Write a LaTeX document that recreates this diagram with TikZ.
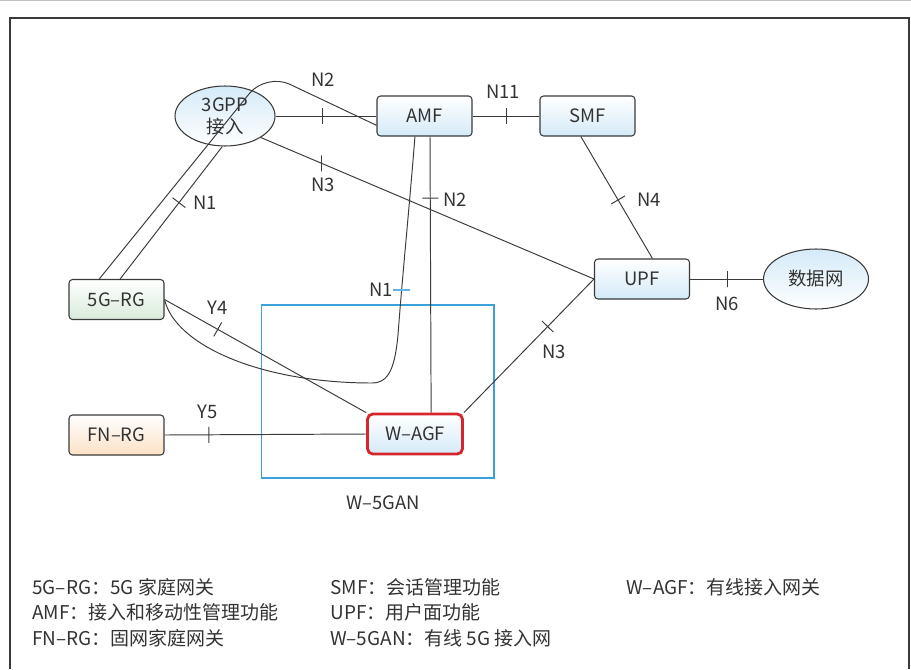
\documentclass[tikz,border=0pt]{standalone}
\usepackage{fontspec}
\setmainfont{Noto Sans CJK SC}
\usetikzlibrary{positioning,shapes.geometric}
\definecolor{boxblue}{HTML}{D4EAF8}
\definecolor{boxgreen}{HTML}{D9EBDB}
\definecolor{boxorange}{HTML}{FCE1C6}
\definecolor{linegray}{HTML}{3A3A3A}
\definecolor{textgray}{HTML}{333333}
\definecolor{agfred}{HTML}{D7252D}
\definecolor{ganblue}{HTML}{3CA0DA}
\definecolor{tickblue}{HTML}{62B3E2}

\begin{document}
\begin{tikzpicture}[
x=0.02cm, y=-0.02cm,
font=\fontsize{10.5}{12.5}\selectfont,
box/.style={draw=linegray, line width=0.6pt, rounded corners=2pt, minimum width=1.9cm, minimum height=0.8cm, top color=white, bottom color=boxblue, text=textgray},
cloud/.style={draw=linegray, line width=0.6pt, ellipse, inner sep=0pt, align=center, minimum width=2cm, minimum height=1.2cm, top color=boxblue, bottom color=white, text=textgray},
link/.style={draw=linegray, line width=0.55pt},
tickmark/.style={sloped, draw=linegray, line width=0.55pt, inner sep=0pt, minimum width=0pt, minimum height=0.32cm},
lbl/.style={text=textgray, inner sep=1pt},
legend/.style={anchor=west, inner sep=0pt, text=textgray, font=\fontsize{10.8}{13}\selectfont}
]
\useasboundingbox (0,0) rectangle (911,669);
\draw[black!25, line width=0.6pt] (0,0.6) -- (911,0.6);
\draw[linegray, line width=0.8pt] (10,669) -- (10,18) -- (909,18) -- (909,669);

\node[draw=ganblue, line width=0.6pt, minimum width=4.66cm, minimum height=3.46cm] (gan) at (377.5,391.5) {};
\node[lbl] (ganlbl) at (383,503) {W–5GAN};

\node[cloud] (gpp) at (225,116) {3GPP\\接入};
\node[box] (amf) at (424.5,116) {AMF};
\node[box] (smf) at (587.5,116) {SMF};
\node[box] (upf) at (642,279) {UPF};
\node[cloud, minimum width=2.1cm] (dn) at (816,279) {数据网};
\node[box, bottom color=boxgreen] (rg5) at (116.5,299.5) {5G–RG};
\node[box, bottom color=boxorange] (fnrg) at (116.5,435) {FN–RG};
\node[box, draw=agfred, line width=1.6pt, rounded corners=3pt] (wagf) at (415,434) {W–AGF};
\coordinate (n1top) at (266,73);

\draw[link] (gpp.east) -- node[tickmark, pos=0.47] (k1) {} (amf.west);
\draw[link] (amf.east) -- node[tickmark, pos=0.51] (k2) {} (smf.west);
\draw[link] (smf.252) -- node[tickmark, pos=0.52] (k3) {} (upf.63);
\draw[link] (upf.east) -- node[tickmark, pos=0.51] (k4) {} (dn.west);
\draw[link] (gpp.-31) -- node[tickmark, sloped=false, pos=0.183] (k5) {} (upf.west);
\draw[link] (amf.285) -- node[tickmark, pos=0.223] (k6) {} (wagf.53);
\draw[link] (rg5.80) -- node[tickmark, pos=0.576] (k7) {} (gpp.265);
\draw[link, rounded corners=15pt] (rg5.130) -- (n1top) -- (amf.191);
\draw[link] (rg5.east) -- node[tickmark, pos=0.264] (k8) {} (wagf.north west);
\draw[link] (fnrg.east) -- node[tickmark, pos=0.22] (k9) {} (wagf.west);
\draw[link] (wagf.north east) -- node[tickmark, pos=0.644] (k10) {} (upf.west);
\draw[link] (rg5.east) .. controls (175,345) and (260,383) .. (372,383)
  .. controls (390,383) and (395,365) .. (398,335)
  .. controls (402,280) and (410,200) .. node[tickmark, sloped=false, draw=tickblue, line width=1pt, minimum width=0.34cm, minimum height=0pt, pos=0.25] (k11) {} (amf.245);

\node[lbl] (n2a) at (323,80) {N2};
\node[lbl] (n3a) at (323,185) {N3};
\node[lbl] (n1a) at (205,203) {N1};
\node[lbl] (n11) at (503,92) {N11};
\node[lbl] (n2b) at (455,200) {N2};
\node[lbl] (n4) at (649,200) {N4};
\node[lbl] (n6) at (727,304) {N6};
\node[lbl] (n1b) at (381,290) {N1};
\node[lbl] (y4) at (218,308) {Y4};
\node[lbl] (y5) at (208,412) {Y5};
\node[lbl] (n3b) at (554,352) {N3};

\node[legend] (lg1) at (32,587) {5G–RG：5G 家庭网关};
\node[legend] (lg2) at (32,612) {AMF：接入和移动性管理功能};
\node[legend] (lg3) at (32,638) {FN–RG：固网家庭网关};
\node[legend] (lg4) at (330,587) {SMF：会话管理功能};
\node[legend] (lg5) at (330,612) {UPF：用户面功能};
\node[legend] (lg6) at (330,638) {W–5GAN：有线 5G 接入网};
\node[legend] (lg7) at (626,587) {W–AGF：有线接入网关};
\end{tikzpicture}
\end{document}
